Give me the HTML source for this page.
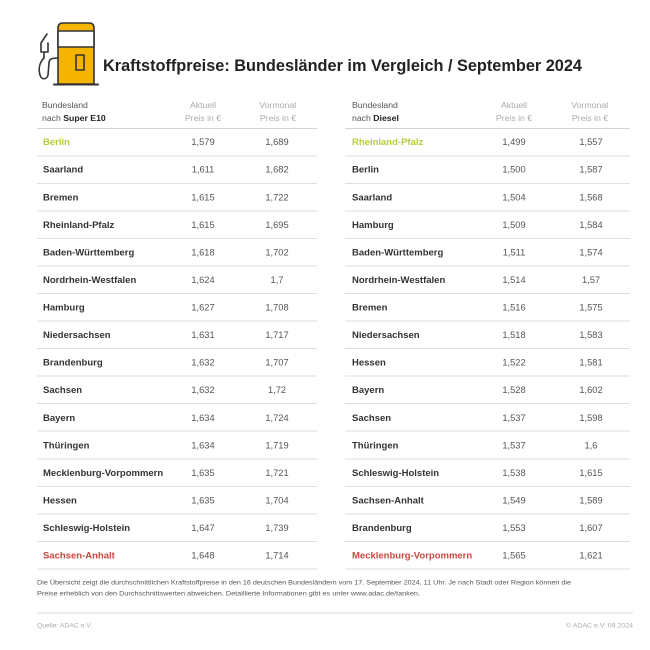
<!DOCTYPE html>
<html><head><meta charset="utf-8"><style>
html,body{margin:0;padding:0;background:#fff;}
svg{display:block;}
text{font-family:"Liberation Sans",sans-serif;}
.n{font-size:9.5px;font-weight:bold;fill:#333;}
.v{font-size:9.3px;fill:#555;text-anchor:middle;}
.h{font-size:8.7px;fill:#555;}
.hc{font-size:8.7px;fill:#aaa;text-anchor:middle;}
.g{fill:#b5cc3e;}
.r{fill:#c8473f;}
.ln{stroke:#dedede;stroke-width:1;}
</style></head><body>
<svg width="650" height="650" viewBox="0 0 650 650" xmlns="http://www.w3.org/2000/svg">
<rect width="650" height="650" fill="#fff"/>
<!-- icon -->
<g stroke="#333" stroke-width="1.6" fill="none" stroke-linejoin="round" stroke-linecap="round">
<path d="M58,84 L58,28 Q58,23 63,23 L89,23 Q94,23 94,28 L94,84 Z" fill="#f5b400"/>
<rect x="58" y="31" width="36" height="16" fill="#fff"/>
<rect x="76" y="55" width="8" height="15" fill="#f5b400"/>
<line x1="54" y1="84.5" x2="98" y2="84.5" stroke-width="2"/>
<path d="M47,34 L41,43 L41,52 L48,52 L48,43"/>
<path d="M44,52 L44,58 C40,62 38,68 40,75 C41,80 47,80 48,75 L49,63 C49,59 52,58 58,58"/>
</g>
<text x="103" y="71" font-size="16.3" font-weight="bold" fill="#222" textLength="479" lengthAdjust="spacingAndGlyphs">Kraftstoffpreise: Bundesländer im Vergleich / September 2024</text>

<!-- left header -->
<text class="h" x="42" y="108">Bundesland</text>
<text class="h" x="42" y="121">nach <tspan font-weight="bold" fill="#222">Super E10</tspan></text>
<text class="hc" x="203" y="108">Aktuell</text>
<text class="hc" x="203" y="121">Preis in €</text>
<text class="hc" x="278" y="108">Vormonat</text>
<text class="hc" x="278" y="121">Preis in €</text>
<!-- right header -->
<text class="h" x="352" y="108">Bundesland</text>
<text class="h" x="352" y="121">nach <tspan font-weight="bold" fill="#222">Diesel</tspan></text>
<text class="hc" x="514" y="108">Aktuell</text>
<text class="hc" x="514" y="121">Preis in €</text>
<text class="hc" x="590" y="108">Vormonat</text>
<text class="hc" x="590" y="121">Preis in €</text>

<!-- lines -->
<g class="ln">
<line x1="37" x2="317" y1="128.5" y2="128.5" stroke="#d4d4d4"/>
<line x1="37" x2="317" y1="156" y2="156"/>
<line x1="37" x2="317" y1="183.5" y2="183.5"/>
<line x1="37" x2="317" y1="211" y2="211"/>
<line x1="37" x2="317" y1="238.5" y2="238.5"/>
<line x1="37" x2="317" y1="266" y2="266"/>
<line x1="37" x2="317" y1="293.5" y2="293.5"/>
<line x1="37" x2="317" y1="321" y2="321"/>
<line x1="37" x2="317" y1="348.5" y2="348.5"/>
<line x1="37" x2="317" y1="376" y2="376"/>
<line x1="37" x2="317" y1="403.5" y2="403.5"/>
<line x1="37" x2="317" y1="431" y2="431"/>
<line x1="37" x2="317" y1="459" y2="459"/>
<line x1="37" x2="317" y1="486.5" y2="486.5"/>
<line x1="37" x2="317" y1="514" y2="514"/>
<line x1="37" x2="317" y1="541.5" y2="541.5"/>
<line x1="37" x2="317" y1="569" y2="569"/>
<line x1="345" x2="630" y1="128.5" y2="128.5" stroke="#d4d4d4"/>
<line x1="345" x2="630" y1="156" y2="156"/>
<line x1="345" x2="630" y1="183.5" y2="183.5"/>
<line x1="345" x2="630" y1="211" y2="211"/>
<line x1="345" x2="630" y1="238.5" y2="238.5"/>
<line x1="345" x2="630" y1="266" y2="266"/>
<line x1="345" x2="630" y1="293.5" y2="293.5"/>
<line x1="345" x2="630" y1="321" y2="321"/>
<line x1="345" x2="630" y1="348.5" y2="348.5"/>
<line x1="345" x2="630" y1="376" y2="376"/>
<line x1="345" x2="630" y1="403.5" y2="403.5"/>
<line x1="345" x2="630" y1="431" y2="431"/>
<line x1="345" x2="630" y1="459" y2="459"/>
<line x1="345" x2="630" y1="486.5" y2="486.5"/>
<line x1="345" x2="630" y1="514" y2="514"/>
<line x1="345" x2="630" y1="541.5" y2="541.5"/>
<line x1="345" x2="630" y1="569" y2="569"/>
<line x1="37" x2="633" y1="613" y2="613" stroke="#d8d8d8"/>
</g>

<!-- left rows -->
<text class="n g" x="43" y="145.2">Berlin</text><text class="v" x="203" y="145.2">1,579</text><text class="v" x="277" y="145.2">1,689</text>
<text class="n" x="43" y="172.7">Saarland</text><text class="v" x="203" y="172.7">1,611</text><text class="v" x="277" y="172.7">1,682</text>
<text class="n" x="43" y="200.3">Bremen</text><text class="v" x="203" y="200.3">1,615</text><text class="v" x="277" y="200.3">1,722</text>
<text class="n" x="43" y="227.9">Rheinland-Pfalz</text><text class="v" x="203" y="227.9">1,615</text><text class="v" x="277" y="227.9">1,695</text>
<text class="n" x="43" y="255.4">Baden-Württemberg</text><text class="v" x="203" y="255.4">1,618</text><text class="v" x="277" y="255.4">1,702</text>
<text class="n" x="43" y="283.0">Nordrhein-Westfalen</text><text class="v" x="203" y="283.0">1,624</text><text class="v" x="277" y="283.0">1,7</text>
<text class="n" x="43" y="310.6">Hamburg</text><text class="v" x="203" y="310.6">1,627</text><text class="v" x="277" y="310.6">1,708</text>
<text class="n" x="43" y="338.1">Niedersachsen</text><text class="v" x="203" y="338.1">1,631</text><text class="v" x="277" y="338.1">1,717</text>
<text class="n" x="43" y="365.7">Brandenburg</text><text class="v" x="203" y="365.7">1,632</text><text class="v" x="277" y="365.7">1,707</text>
<text class="n" x="43" y="393.2">Sachsen</text><text class="v" x="203" y="393.2">1,632</text><text class="v" x="277" y="393.2">1,72</text>
<text class="n" x="43" y="420.8">Bayern</text><text class="v" x="203" y="420.8">1,634</text><text class="v" x="277" y="420.8">1,724</text>
<text class="n" x="43" y="448.4">Thüringen</text><text class="v" x="203" y="448.4">1,634</text><text class="v" x="277" y="448.4">1,719</text>
<text class="n" x="43" y="475.9">Mecklenburg-Vorpommern</text><text class="v" x="203" y="475.9">1,635</text><text class="v" x="277" y="475.9">1,721</text>
<text class="n" x="43" y="503.5">Hessen</text><text class="v" x="203" y="503.5">1,635</text><text class="v" x="277" y="503.5">1,704</text>
<text class="n" x="43" y="531.1">Schleswig-Holstein</text><text class="v" x="203" y="531.1">1,647</text><text class="v" x="277" y="531.1">1,739</text>
<text class="n r" x="43" y="558.6">Sachsen-Anhalt</text><text class="v" x="203" y="558.6">1,648</text><text class="v" x="277" y="558.6">1,714</text>

<!-- right rows -->
<text class="n g" x="352" y="145.2">Rheinland-Pfalz</text><text class="v" x="514" y="145.2">1,499</text><text class="v" x="591" y="145.2">1,557</text>
<text class="n" x="352" y="172.7">Berlin</text><text class="v" x="514" y="172.7">1,500</text><text class="v" x="591" y="172.7">1,587</text>
<text class="n" x="352" y="200.3">Saarland</text><text class="v" x="514" y="200.3">1,504</text><text class="v" x="591" y="200.3">1,568</text>
<text class="n" x="352" y="227.9">Hamburg</text><text class="v" x="514" y="227.9">1,509</text><text class="v" x="591" y="227.9">1,584</text>
<text class="n" x="352" y="255.4">Baden-Württemberg</text><text class="v" x="514" y="255.4">1,511</text><text class="v" x="591" y="255.4">1,574</text>
<text class="n" x="352" y="283.0">Nordrhein-Westfalen</text><text class="v" x="514" y="283.0">1,514</text><text class="v" x="591" y="283.0">1,57</text>
<text class="n" x="352" y="310.6">Bremen</text><text class="v" x="514" y="310.6">1,516</text><text class="v" x="591" y="310.6">1,575</text>
<text class="n" x="352" y="338.1">Niedersachsen</text><text class="v" x="514" y="338.1">1,518</text><text class="v" x="591" y="338.1">1,583</text>
<text class="n" x="352" y="365.7">Hessen</text><text class="v" x="514" y="365.7">1,522</text><text class="v" x="591" y="365.7">1,581</text>
<text class="n" x="352" y="393.2">Bayern</text><text class="v" x="514" y="393.2">1,528</text><text class="v" x="591" y="393.2">1,602</text>
<text class="n" x="352" y="420.8">Sachsen</text><text class="v" x="514" y="420.8">1,537</text><text class="v" x="591" y="420.8">1,598</text>
<text class="n" x="352" y="448.4">Thüringen</text><text class="v" x="514" y="448.4">1,537</text><text class="v" x="591" y="448.4">1,6</text>
<text class="n" x="352" y="475.9">Schleswig-Holstein</text><text class="v" x="514" y="475.9">1,538</text><text class="v" x="591" y="475.9">1,615</text>
<text class="n" x="352" y="503.5">Sachsen-Anhalt</text><text class="v" x="514" y="503.5">1,549</text><text class="v" x="591" y="503.5">1,589</text>
<text class="n" x="352" y="531.1">Brandenburg</text><text class="v" x="514" y="531.1">1,553</text><text class="v" x="591" y="531.1">1,607</text>
<text class="n r" x="352" y="558.6">Mecklenburg-Vorpommern</text><text class="v" x="514" y="558.6">1,565</text><text class="v" x="591" y="558.6">1,621</text>

<!-- footnote -->
<text x="37" y="584.5" font-size="6.6" fill="#555" textLength="534" lengthAdjust="spacingAndGlyphs">Die Übersicht zeigt die durchschnittlichen Kraftstoffpreise in den 16 deutschen Bundesländern vom 17. September 2024, 11 Uhr. Je nach Stadt oder Region können die</text>
<text x="37" y="595.5" font-size="6.6" fill="#555" textLength="383" lengthAdjust="spacingAndGlyphs">Preise erheblich von den Durchschnittswerten abweichen. Detaillierte Informationen gibt es unter www.adac.de/tanken.</text>
<text x="37" y="627.5" font-size="6.6" fill="#aaa" textLength="55" lengthAdjust="spacingAndGlyphs">Quelle: ADAC e.V.</text>
<text x="566" y="627.5" font-size="6.6" fill="#aaa" textLength="67" lengthAdjust="spacingAndGlyphs">© ADAC e.V. 09.2024</text>
</svg>
</body></html>
